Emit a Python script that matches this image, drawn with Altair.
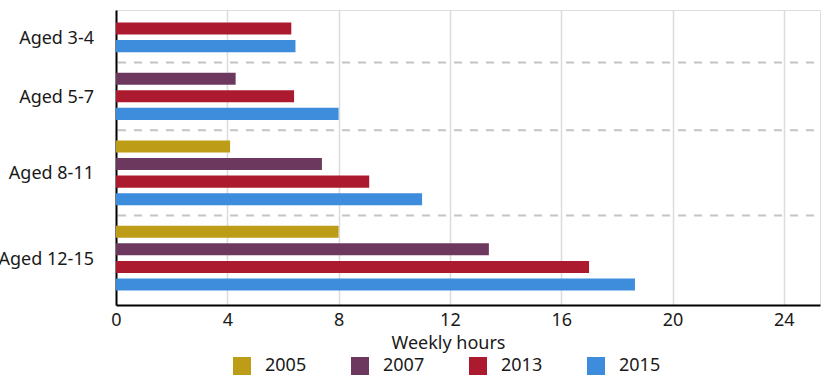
import altair as alt
import pandas as pd

# ---- data ----
groups = ["Aged 3-4", "Aged 5-7", "Aged 8-11", "Aged 12-15"]
years = ["2005", "2007", "2013", "2015"]
v2005 = [None, None, 4.1, 8.0]
v2007 = [None, 4.3, 7.4, 13.4]
v2013 = [6.3, 6.4, 9.1, 17.0]
v2015 = [6.45, 8.0, 11.0, 18.65]
colors = ["#bd9d17", "#6d385d", "#ac1a2f", "#3e8ddd"]
x_ticks = [0, 4, 8, 12, 16, 20, 24]

series = {"2005": v2005, "2007": v2007, "2013": v2013, "2015": v2015}

# ---- layout of bar slots (groups have different numbers of bars) ----
STEP = 1.0      # between bars within a group
GAP = 1.85      # between last bar of a group and first bar of next group
HALF = 0.343    # half bar thickness in slot units

bars, labels, seps = [], [], []
pos = 0.0
first = True
for gi, g in enumerate(groups):
    present = [y for y in years if series[y][gi] is not None]
    if not first:
        pos_prev_end = pos
        pos += GAP
        seps.append({"sep": (pos_prev_end + pos) / 2})
    first = False
    start = pos
    for k, y in enumerate(present):
        if k > 0:
            pos += STEP
        bars.append({"group": g, "year": y, "value": series[y][gi],
                     "y0": pos - HALF, "y1": pos + HALF})
    labels.append({"group": g, "mid": (start + pos) / 2})

bars_df = pd.DataFrame(bars)
labels_df = pd.DataFrame(labels)
seps_df = pd.DataFrame(seps)

FONT = "Noto Sans"
TXT = "#1a1a1a"
W, H = 704, 295

yscale = alt.Scale(domain=[-0.77, 15.43], reverse=True, nice=False, zero=False)
xscale = alt.Scale(domain=[0, 25.3], nice=False, zero=True)

bar_layer = alt.Chart(bars_df).mark_bar(orient="horizontal").encode(
    x=alt.X("value:Q", scale=xscale,
            axis=alt.Axis(values=x_ticks, title="Weekly hours", grid=True,
                          gridColor="#dcdcdc", gridWidth=1.5,
                          ticks=False, labelPadding=6, labelFlush=False,
                          domainColor="#000000", domainWidth=2,
                          labelFont=FONT, labelFontSize=18, labelColor=TXT,
                          titleFont=FONT, titleFontSize=18, titleColor=TXT,
                          titleFontWeight="normal",
                          titleX=332, titleY=38, titleBaseline="middle")),
    x2=alt.X2(datum=0),
    y=alt.Y("y0:Q", scale=yscale,
            axis=alt.Axis(labels=False, ticks=False, grid=False, title=None,
                          domainColor="#000000", domainWidth=2)),
    y2="y1:Q",
    color=alt.Color("year:N",
                    scale=alt.Scale(domain=years, range=colors),
                    legend=alt.Legend(title=None, orient="none",
                                      direction="horizontal",
                                      legendX=117, legendY=347,
                                      symbolType="square", symbolSize=324,
                                      symbolStrokeWidth=0,
                                      labelFont=FONT, labelFontSize=18,
                                      labelColor=TXT, labelOffset=14,
                                      columnPadding=44, padding=0)),
)

sep_layer = alt.Chart(seps_df).mark_rule(
    color="#c4c4c4", strokeWidth=2, strokeDash=[8, 8]
).encode(
    y=alt.Y("sep:Q", scale=yscale),
    x=alt.value(2),
    x2=alt.value(W),
)

label_layer = alt.Chart(labels_df).mark_text(
    align="right", baseline="middle", font=FONT, fontSize=18, color=TXT, dy=1.5
).encode(
    y=alt.Y("mid:Q", scale=yscale),
    x=alt.value(-22),
    text="group:N",
)

chart = alt.layer(sep_layer, bar_layer, label_layer).properties(
    width=W, height=H,
    autosize=alt.AutoSizeParams(type="none"),
    padding={"left": 116, "top": 10, "right": 1, "bottom": 79},
).configure_view(strokeWidth=0).configure(background="white")

chart.save("out.html", embed_options={"renderer": "svg", "actions": False})
